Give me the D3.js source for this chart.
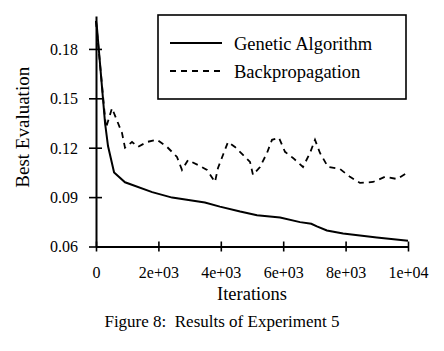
<!DOCTYPE html>
<html>
<head>
<meta charset="utf-8">
<script src="https://cdn.jsdelivr.net/npm/d3@7"></script>
<style>
  body { margin: 0; background: #fff; }
  svg { display: block; }
  text { font-family: "Liberation Serif", "Times New Roman", serif; fill: #000; }
</style>
</head>
<body>
<div id="chart"></div>
<script>
// Data
const gaIters = [0, 30, 290, 385, 580, 930, 1800, 2440, 3490, 3970, 4620, 5160, 5900, 6540, 6900, 7080, 7400, 7920, 9000, 10000];
const gaValues = [0.197, 0.193, 0.135, 0.121, 0.105, 0.099, 0.093, 0.0897, 0.0867, 0.0842, 0.0812, 0.079, 0.0776, 0.0748, 0.0738, 0.0722, 0.0697, 0.0679, 0.0655, 0.0635];

const bpIters = [0, 320, 513, 705, 833, 929, 1154, 1346, 1635, 1955, 2276, 2596, 2756, 2949, 3269, 3558, 3814, 3910, 4070, 4231, 4455, 4712, 4936, 5032, 5256, 5481, 5641, 5865, 6058, 6314, 6634, 6859, 7019, 7179, 7436, 7820, 8141, 8461, 8878, 9262, 9647, 9968];
const bpValues = [0.197, 0.132, 0.144, 0.135, 0.129, 0.120, 0.1235, 0.1205, 0.1235, 0.1248, 0.1205, 0.1144, 0.1065, 0.1125, 0.1095, 0.1065, 0.0992, 0.1077, 0.1156, 0.1235, 0.1205, 0.1156, 0.1114, 0.1035, 0.1083, 0.1168, 0.1248, 0.126, 0.1175, 0.1138, 0.1083, 0.1168, 0.1248, 0.1168, 0.1083, 0.1071, 0.1023, 0.0986, 0.0992, 0.1023, 0.101, 0.1047];

const xTickValues = [0, 2000, 4000, 6000, 8000, 10000];
const xTickLabels = ["0", "2e+03", "4e+03", "6e+03", "8e+03", "1e+04"];
const yTickValues = [0.06, 0.09, 0.12, 0.15, 0.18];
const yTickLabels = ["0.06", "0.09", "0.12", "0.15", "0.18"];

const seriesNames = ["Genetic Algorithm", "Backpropagation"];

const width = 444;
const height = 351;

const svg = d3.select("#chart")
    .append("svg")
    .attr("width", width)
    .attr("height", height);

const x = d3.scaleLinear().domain([0, 10000]).range([96, 408]);
const y = d3.scaleLinear().domain([0.06, 0.2]).range([246.5, 16]);

// X axis (ticks cross the line)
const xAxis = svg.append("g")
    .attr("transform", `translate(0,${y(0.06)})`)
    .attr("font-family", null)
    .call(d3.axisBottom(x)
        .tickValues(xTickValues)
        .tickFormat((d, i) => xTickLabels[i])
        .tickSizeOuter(0));
xAxis.select(".domain").attr("stroke", "#000").attr("stroke-width", 2);
xAxis.selectAll(".tick line").attr("y1", -5).attr("y2", 5).attr("stroke-width", 1.6);
xAxis.selectAll(".tick text")
    .attr("y", 31.5).attr("dy", 0)
    .style("font-size", "16px")
    .style("font-family", "'Liberation Serif', serif");

// Y axis
const yAxis = svg.append("g")
    .attr("transform", `translate(${x(0)},0)`)
    .call(d3.axisLeft(y)
        .tickValues(yTickValues)
        .tickFormat((d, i) => yTickLabels[i])
        .tickSizeOuter(0));
yAxis.select(".domain").attr("stroke", "#000").attr("stroke-width", 2);
yAxis.selectAll(".tick line").attr("x1", -7).attr("x2", 6).attr("stroke-width", 1.6);
yAxis.selectAll(".tick text")
    .attr("x", -18).attr("dy", "0.34em")
    .style("font-size", "16px")
    .style("font-family", "'Liberation Serif', serif");

// Lines
const line = d3.line()
    .x(d => x(d[0]))
    .y(d => y(d[1]));

svg.append("path")
    .datum(d3.zip(bpIters, bpValues))
    .attr("d", line)
    .attr("fill", "none")
    .attr("stroke", "#000")
    .attr("stroke-width", 1.8)
    .attr("stroke-dasharray", "6,5");

svg.append("path")
    .datum(d3.zip(gaIters, gaValues))
    .attr("d", line)
    .attr("fill", "none")
    .attr("stroke", "#000")
    .attr("stroke-width", 2);

// Axis titles
svg.append("text")
    .attr("x", (x(0) + x(10000)) / 2)
    .attr("y", 300)
    .attr("text-anchor", "middle")
    .style("font-size", "18.5px")
    .text("Iterations");

svg.append("text")
    .attr("transform", `translate(29,${(y(0.06) + y(0.2)) / 2 - 4}) rotate(-90)`)
    .attr("text-anchor", "middle")
    .style("font-size", "19px")
    .text("Best Evaluation");

// Caption
svg.append("text")
    .attr("x", 222)
    .attr("y", 327)
    .attr("text-anchor", "middle")
    .style("font-size", "17px")
    .attr("xml:space", "preserve")
    .text("Figure 8:  Results of Experiment 5");

// Legend
const legend = svg.append("g");
legend.append("rect")
    .attr("x", 158).attr("y", 15)
    .attr("width", 248).attr("height", 84)
    .attr("fill", "#fff")
    .attr("stroke", "#000")
    .attr("stroke-width", 1.6);

seriesNames.forEach((name, i) => {
    const ly = 43 + i * 28;
    legend.append("line")
        .attr("x1", 170).attr("x2", 222)
        .attr("y1", ly).attr("y2", ly)
        .attr("stroke", "#000")
        .attr("stroke-width", i === 0 ? 2 : 1.8)
        .attr("stroke-dasharray", i === 0 ? null : "6,5");
    legend.append("text")
        .attr("x", 234)
        .attr("y", ly + 7)
        .style("font-size", "18.5px")
        .text(name);
});
</script>
</body>
</html>
